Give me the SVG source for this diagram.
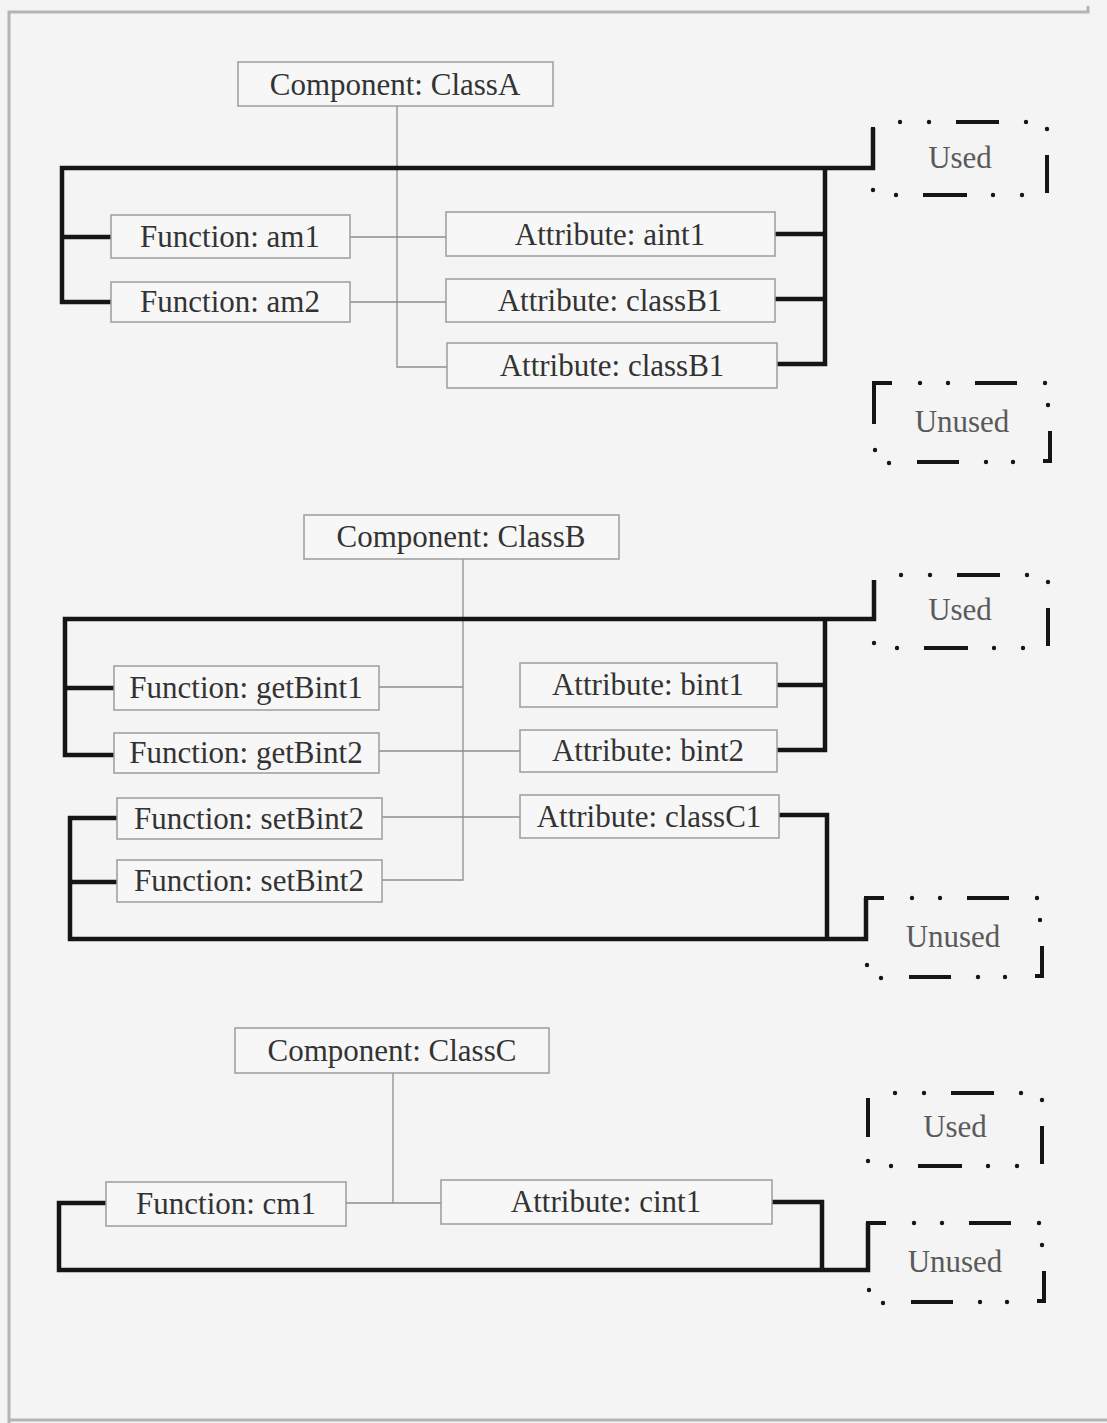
<svg xmlns="http://www.w3.org/2000/svg" xmlns:xlink="http://www.w3.org/1999/xlink" width="1107" height="1423" viewBox="0 0 1107 1423">
<style>
.bg{fill:#f4f4f4}
.frame{fill:none;stroke:#b4b4b4;stroke-width:3}
.box{fill:#f7f7f7;stroke:#9c9c9c;stroke-width:1.5}
.lbl{font-family:"Liberation Serif","Times New Roman",serif;font-size:31px;fill:#333;text-anchor:middle}
.tag{font-family:"Liberation Serif","Times New Roman",serif;font-size:31px;fill:#5a5a5a;text-anchor:middle}
.thin{fill:none;stroke:#8e8e8e;stroke-width:1.3}
.thick{fill:none;stroke:#151515;stroke-width:4.5;stroke-linejoin:miter}
.dash{fill:none;stroke:#151515;stroke-width:4}
.dot{fill:#151515}
</style>
<defs>
<g id="usedFrame">
<path class="dash" d="M0,5 V44 M83,0 H126 M174,33 V71 M50,73 H94"/>
<circle class="dot" cx="27" cy="0" r="2.2"/>
<circle class="dot" cx="56" cy="0" r="2.2"/>
<circle class="dot" cx="153" cy="0" r="2.2"/>
<circle class="dot" cx="174" cy="7" r="2.2"/>
<circle class="dot" cx="0" cy="68" r="2.2"/>
<circle class="dot" cx="23" cy="73" r="2.2"/>
<circle class="dot" cx="120" cy="73" r="2.2"/>
<circle class="dot" cx="149" cy="73" r="2.2"/>
</g>
<g id="unusedFrame">
<path class="dash" d="M18,0 H0 V41 M101,0 H143 M176,48 V78 H169 M43,79 H85"/>
<circle class="dot" cx="46" cy="0" r="2.2"/>
<circle class="dot" cx="74" cy="0" r="2.2"/>
<circle class="dot" cx="171" cy="0" r="2.2"/>
<circle class="dot" cx="174" cy="22" r="2.2"/>
<circle class="dot" cx="1" cy="67" r="2.2"/>
<circle class="dot" cx="15" cy="80" r="2.2"/>
<circle class="dot" cx="112" cy="79" r="2.2"/>
<circle class="dot" cx="139" cy="79" r="2.2"/>
</g>
</defs>
<rect class="bg" x="0" y="0" width="1107" height="1423"/>
<path class="frame" d="M9,1423 V12 H1088 V6 M9,1420 H1107"/>

<g id="connectors">
<!-- Section A -->
<path class="thin" d="M397,106 V367 H447"/>
<path class="thin" d="M350,237 H446"/>
<path class="thin" d="M350,302 H446"/>
<path class="thick" d="M111,302 H62 V168 H873 V128"/>
<path class="thick" d="M62,237 H111"/>
<path class="thick" d="M777,364 H825 V168"/>
<path class="thick" d="M775,234 H825"/>
<path class="thick" d="M775,299 H825"/>
<!-- Section B -->
<path class="thin" d="M463,559 V880 H382"/>
<path class="thin" d="M379,687 H463"/>
<path class="thin" d="M379,751 H520"/>
<path class="thin" d="M382,817 H520"/>
<path class="thick" d="M114,755 H65 V619 H874 V580"/>
<path class="thick" d="M65,688 H114"/>
<path class="thick" d="M777,750 H825 V619"/>
<path class="thick" d="M777,685 H825"/>
<path class="thick" d="M117,818 H70 V939 H866 V898"/>
<path class="thick" d="M70,882 H117"/>
<path class="thick" d="M779,815 H827 V939"/>
<!-- Section C -->
<path class="thin" d="M393,1073 V1203"/>
<path class="thin" d="M346,1203 H441"/>
<path class="thick" d="M106,1203 H59 V1270 H868 V1223"/>
<path class="thick" d="M772,1202 H822 V1270"/>
</g>

<g id="classA"><rect class="box" x="238" y="62" width="315" height="44"/><text class="lbl" x="395" y="95">Component: ClassA</text></g>
<g id="am1"><rect class="box" x="111" y="215" width="239" height="43"/><text class="lbl" x="230" y="247">Function: am1</text></g>
<g id="am2"><rect class="box" x="111" y="282" width="239" height="40"/><text class="lbl" x="230" y="312">Function: am2</text></g>
<g id="aint1"><rect class="box" x="446" y="212" width="329" height="44"/><text class="lbl" x="610" y="245">Attribute: aint1</text></g>
<g id="classB1a"><rect class="box" x="446" y="279" width="329" height="43"/><text class="lbl" x="610" y="311">Attribute: classB1</text></g>
<g id="classB1b"><rect class="box" x="447" y="343" width="330" height="45"/><text class="lbl" x="612" y="376">Attribute: classB1</text></g>
<g id="usedA"><use xlink:href="#usedFrame" transform="translate(873,122)"/><text class="tag" x="960" y="168">Used</text></g>
<g id="unusedA"><use xlink:href="#unusedFrame" transform="translate(874,383)"/><text class="tag" x="962" y="432">Unused</text></g>

<g id="classB"><rect class="box" x="304" y="515" width="315" height="44"/><text class="lbl" x="461" y="547">Component: ClassB</text></g>
<g id="getBint1"><rect class="box" x="114" y="666" width="265" height="44"/><text class="lbl" x="246" y="698">Function: getBint1</text></g>
<g id="getBint2"><rect class="box" x="114" y="733" width="265" height="40"/><text class="lbl" x="246" y="763">Function: getBint2</text></g>
<g id="setBint2a"><rect class="box" x="117" y="798" width="265" height="41"/><text class="lbl" x="249" y="829">Function: setBint2</text></g>
<g id="setBint2b"><rect class="box" x="117" y="860" width="265" height="42"/><text class="lbl" x="249" y="891">Function: setBint2</text></g>
<g id="bint1"><rect class="box" x="520" y="663" width="257" height="44"/><text class="lbl" x="648" y="695">Attribute: bint1</text></g>
<g id="bint2"><rect class="box" x="520" y="730" width="257" height="42"/><text class="lbl" x="648" y="761">Attribute: bint2</text></g>
<g id="classC1"><rect class="box" x="520" y="795" width="259" height="43"/><text class="lbl" x="649" y="827">Attribute: classC1</text></g>
<g id="usedB"><use xlink:href="#usedFrame" transform="translate(874,575)"/><text class="tag" x="960" y="620">Used</text></g>
<g id="unusedB"><use xlink:href="#unusedFrame" transform="translate(866,898)"/><text class="tag" x="953" y="947">Unused</text></g>

<g id="classC"><rect class="box" x="235" y="1028" width="314" height="45"/><text class="lbl" x="392" y="1061">Component: ClassC</text></g>
<g id="cm1"><rect class="box" x="106" y="1182" width="240" height="44"/><text class="lbl" x="226" y="1214">Function: cm1</text></g>
<g id="cint1"><rect class="box" x="441" y="1180" width="331" height="44"/><text class="lbl" x="606" y="1212">Attribute: cint1</text></g>
<g id="usedC"><use xlink:href="#usedFrame" transform="translate(868,1093)"/><text class="tag" x="955" y="1137">Used</text></g>
<g id="unusedC"><use xlink:href="#unusedFrame" transform="translate(868,1223)"/><text class="tag" x="955" y="1272">Unused</text></g>
</svg>
